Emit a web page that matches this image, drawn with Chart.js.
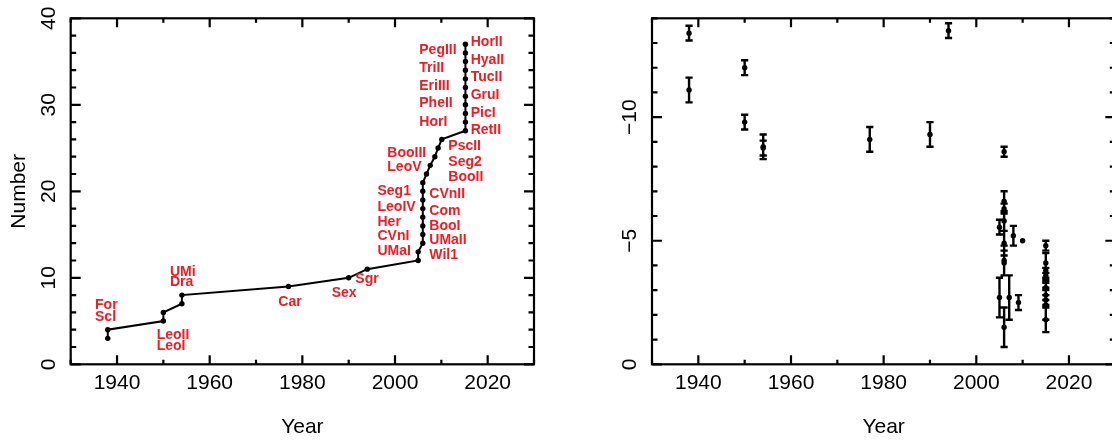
<!DOCTYPE html>
<html><head><meta charset="utf-8">
<script src="https://cdn.jsdelivr.net/npm/chart.js@4.4.1/dist/chart.umd.min.js"></script>
<style>
html,body{margin:0;padding:0;background:#fff;overflow:hidden;width:1112px;height:441px;position:relative;}
#cl{position:absolute;left:0;top:0;}
#cr{position:absolute;left:580px;top:0;}
</style></head><body>
<canvas id="cl" width="560" height="441"></canvas>
<canvas id="cr" width="560" height="441"></canvas>
<script>
// ---------------- data ----------------
// Left panel: cumulative number of known Milky Way satellites vs discovery year
const cumYears = [1938,1938,1950,1950,1954,1954,1977,1990,1994,2005,2005,
  2006,2006,2006,2006,2006,2006,2006,2006,
  2006.8,2007.6,2008.6,2009.3,2010.1,
  2015.2,2015.2,2015.2,2015.2,2015.2,2015.2,2015.2,2015.2,2015.2,2015.2,2015.2];
const cumCounts = [3,4,5,6,7,8,9,10,11,12,13,14,15,16,17,18,19,20,21,22,23,24,25,26,
  27,28,29,30,31,32,33,34,35,36,37];
const satNames = ['For','Scl','LeoII','LeoI','UMi','Dra','Car','Sex','Sgr',
  'Seg1','LeoIV','Her','CVnI','UMaI','CVnII','Com','BooI','UMaII','Wil1',
  'BooIII','LeoV','PscII','Seg2','BooII',
  'PegIII','TriII','EriIII','PheII','HorI','HorII','HyaII','TucII','GruI','PicI','RetII'];

// Right panel: absolute magnitude M_V vs discovery year, with errors
const mvYears = [1938,1938,1950,1950,1954,1954,1977,1990,1994,2005,2005,
  2006,2006,2006,2006,2006,2006,2006,2006,2007.1,2008,2009.1,2010,
  2015,2015,2015,2015,2015,2015,2015,2015,2015,2015,2015];
const mvValues = [-13.4,-11.1,-12.0,-9.8,-8.8,-8.75,-9.1,-9.3,-13.5,-2.7,-5.55,
  -8.6,-6.6,-6.3,-5.8,-4.9,-4.2,-4.1,-1.5,-2.7,-5.2,-2.5,-5.0,
  -3.6,-3.1,-3.4,-3.8,-4.8,-2.6,-4.1,-1.8,-2.4,-2.8,-3.4];
const mvErrors = [0.3,0.5,0.3,0.3,0.5,0.3,0.5,0.5,0.3,0.8,0.3,
  0.2,0.4,0.2,0.4,0.5,0.6,0.5,0.8,0.9,0.4,0.3,0,
  0.1,0.3,0.3,0.1,0.2,0.2,0.4,0.5,0.6,0.2,0.1];

// axis tick labels
const leftYTickLabels = [0,10,20,30,40];
const rightYTickLabels = [-10,-5,0];
const xTickLabelYears = [1940,1960,1980,2000,2020];

// ---------------- layout / style (not data) ----------------
const FONT = '"Liberation Sans", Arial, Helvetica, sans-serif';
const RED = '#ee1c25';
// label anchor (left edge, vertical centre) in data units, one per satNames entry
const labelAnchors = [[1935.25,6.86],[1935.25,5.5],[1948.56,3.39],[1948.56,2.15],[1951.43,10.7],[1951.43,9.48],
  [1974.81,7.17],[1986.33,8.2],[1991.43,9.83],
  [1996.22,20.07],[1996.22,18.15],[1996.22,16.49],[1996.22,14.83],[1996.22,13.13],
  [2007.4,19.7],[2007.4,17.76],[2007.4,15.99],[2007.4,14.37],[2007.4,12.64],
  [1998.34,24.39],[1998.34,22.84],
  [2011.5,25.24],[2011.5,23.42],[2011.5,21.69],
  [2005.24,36.34],[2005.24,34.29],[2005.24,32.17],[2005.24,30.17],[2005.24,28.05],
  [2016.34,37.3],[2016.34,35.18],[2016.34,33.18],[2016.34,31.13],[2016.34,29.09],[2016.34,27.09]];

function framePlugin(cfg) {
  return {
    id: 'frame',
    afterDraw(chart) {
      const {ctx, chartArea: a} = chart;
      const x = chart.scales.x, y = chart.scales.y;
      ctx.save();
      ctx.strokeStyle = '#000';
      ctx.lineWidth = 2.2;
      ctx.strokeRect(a.left, a.top, a.right - a.left, a.bottom - a.top);
      ctx.beginPath();
      for (let v = x.min; v <= x.max + 1e-6; v += 10) {
        const px = x.getPixelForValue(v);
        const len = (Math.round(v) % 20 === 0) ? 9 : 4.5;
        ctx.moveTo(px, a.bottom); ctx.lineTo(px, a.bottom - len);
        ctx.moveTo(px, a.top); ctx.lineTo(px, a.top + len);
      }
      for (let v = y.min; v <= y.max + 1e-6; v += cfg.yMinor) {
        const py = y.getPixelForValue(v);
        const len = (Math.abs(Math.round(v)) % cfg.yMajor === 0) ? 10 : 5.5;
        ctx.moveTo(a.left, py); ctx.lineTo(a.left + len, py);
        ctx.moveTo(a.right, py); ctx.lineTo(a.right - len, py);
      }
      ctx.stroke();
      // rotated y tick labels
      ctx.fillStyle = '#000';
      ctx.font = '21px ' + FONT;
      ctx.textAlign = 'center';
      ctx.textBaseline = 'alphabetic';
      cfg.yLabels.forEach(v => {
        const py = y.getPixelForValue(v);
        ctx.save();
        ctx.translate(a.left - 16, py);
        ctx.rotate(-Math.PI / 2);
        ctx.fillText(v < 0 ? '\u2212' + Math.abs(v) : String(v), 0, 0);
        ctx.restore();
      });
      // y axis title
      const cy = (a.top + a.bottom) / 2;
      ctx.save();
      ctx.translate(cfg.titleX, cy);
      ctx.rotate(-Math.PI / 2);
      if (cfg.sub) {
        ctx.font = '21px ' + FONT;
        const wM = ctx.measureText(cfg.title).width;
        ctx.font = '15px ' + FONT;
        const wS = ctx.measureText(cfg.sub).width;
        const x0 = -(wM + wS) / 2;
        ctx.textAlign = 'left';
        ctx.font = '21px ' + FONT;
        ctx.fillText(cfg.title, x0, 0);
        ctx.font = '15px ' + FONT;
        ctx.fillText(cfg.sub, x0 + wM, 5);
      } else {
        ctx.textAlign = 'center';
        ctx.font = '21px ' + FONT;
        ctx.fillText(cfg.title, 0, 0);
      }
      ctx.restore();
      ctx.restore();
    }
  };
}

const labelPlugin = {
  id: 'names',
  afterDatasetsDraw(chart) {
    const {ctx} = chart;
    const x = chart.scales.x, y = chart.scales.y;
    ctx.save();
    ctx.fillStyle = RED;
    ctx.font = 'bold 14px ' + FONT;
    ctx.textAlign = 'left';
    ctx.textBaseline = 'middle';
    satNames.forEach((n, i) => {
      ctx.fillText(n, x.getPixelForValue(labelAnchors[i][0]), y.getPixelForValue(labelAnchors[i][1]));
    });
    ctx.restore();
  }
};

const errorBarPlugin = {
  id: 'errbars',
  beforeDatasetsDraw(chart) {
    const {ctx} = chart;
    const x = chart.scales.x, y = chart.scales.y;
    ctx.save();
    ctx.strokeStyle = '#000';
    ctx.lineWidth = 2.4;
    ctx.beginPath();
    mvValues.forEach((v, i) => {
      const e = mvErrors[i];
      if (!e) return;
      const px = x.getPixelForValue(mvYears[i]);
      const p1 = y.getPixelForValue(v - e), p2 = y.getPixelForValue(v + e);
      ctx.moveTo(px, p1); ctx.lineTo(px, p2);
      ctx.moveTo(px - 3.6, p1); ctx.lineTo(px + 3.6, p1);
      ctx.moveTo(px - 3.6, p2); ctx.lineTo(px + 3.6, p2);
    });
    ctx.stroke();
    ctx.restore();
  }
};

function xScale() {
  return {
    type: 'linear', min: 1930, max: 2030, position: 'bottom',
    grid: {display: false, drawTicks: false},
    border: {display: false},
    ticks: {
      stepSize: 10, autoSkip: false, maxRotation: 0, minRotation: 0,
      color: '#000', font: {family: FONT, size: 21}, padding: 6,
      callback: v => xTickLabelYears.includes(v) ? String(v) : ''
    },
    title: {display: true, text: 'Year', color: '#000', font: {family: FONT, size: 21}, padding: {top: 0, bottom: 1}},
    afterFit: s => { s.height = 76.7; }
  };
}

const common = {
  responsive: false, animation: false, devicePixelRatio: 1,
  plugins: {legend: {display: false}, tooltip: {enabled: false}}
};

new Chart(document.getElementById('cl'), {
  type: 'scatter',
  data: {datasets: [{
    data: cumYears.map((yr, i) => ({x: yr, y: cumCounts[i]})),
    showLine: true, borderColor: '#000', borderWidth: 2, tension: 0,
    pointRadius: 2.7, pointBackgroundColor: '#000', pointBorderWidth: 0
  }]},
  options: Object.assign({}, common, {
    layout: {padding: {left: 70.7, top: 18.3, right: 26, bottom: 0}},
    scales: {x: xScale(), y: {type: 'linear', min: 0, max: 40, display: false}}
  }),
  plugins: [labelPlugin, framePlugin({yMinor: 2, yMajor: 10, yLabels: leftYTickLabels, title: 'Number', titleX: 25})]
});

new Chart(document.getElementById('cr'), {
  type: 'scatter',
  data: {datasets: [{
    data: mvYears.map((yr, i) => ({x: yr, y: mvValues[i]})),
    showLine: false,
    pointRadius: 2.7, pointBackgroundColor: '#000', pointBorderWidth: 0
  }]},
  options: Object.assign({}, common, {
    layout: {padding: {left: 72, top: 18.3, right: 24.7, bottom: 0}},
    scales: {x: xScale(), y: {type: 'linear', min: -14, max: 0, reverse: true, display: false}}
  }),
  plugins: [errorBarPlugin, framePlugin({yMinor: 1, yMajor: 5, yLabels: rightYTickLabels, title: 'M', sub: 'V', titleX: 603})]
});
</script>
</body></html>
